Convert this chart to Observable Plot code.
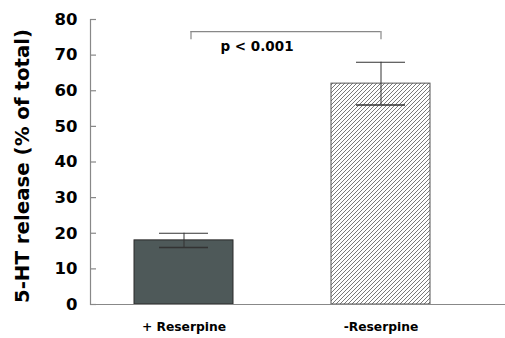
<!DOCTYPE html>
<html>
<head>
<meta charset="utf-8">
<script src="https://cdn.jsdelivr.net/npm/d3@7"></script>
<script src="https://cdn.jsdelivr.net/npm/@observablehq/plot@0.6"></script>
<style>
  html, body { margin: 0; padding: 0; background: #fff; }
  #chart svg { display: block; }
</style>
</head>
<body>
<div id="chart"></div>
<script>
const categories = ["+ Reserpine", "-Reserpine"];
const means = [18, 62];
const errLow = [16, 56];
const errHigh = [20, 68];
const yTicks = [0, 10, 20, 30, 40, 50, 60, 70, 80];
const yLabel = "5-HT release (% of total)";
const sigLabel = "p < 0.001";
const sigTop = 76.6;
const sigDrop = 74.3;
const sigText = 72.4;

const data = categories.map((c, i) => ({cat: c, mean: means[i], lo: errLow[i], hi: errHigh[i]}));
const bracket = [{from: categories[0], to: categories[1], top: sigTop, drop: sigDrop, ty: sigText, label: sigLabel}];

const FONT = "'DejaVu Sans', sans-serif";

const hatchDefs = () => {
  const defs = d3.create("svg:defs");
  const p = defs.append("pattern")
    .attr("id", "hatch")
    .attr("patternUnits", "userSpaceOnUse")
    .attr("width", 4).attr("height", 4);
  p.append("rect").attr("width", 4).attr("height", 4).attr("fill", "#fff");
  p.append("path")
    .attr("d", "M-1,1 l2,-2 M0,4 l4,-4 M3,5 l2,-2")
    .attr("stroke", "#6a6a6a").attr("stroke-width", 0.9);
  return defs.node();
};

const chart = Plot.plot({
  width: 505,
  height: 338,
  marginLeft: 90,
  marginRight: 0,
  marginTop: 19,
  marginBottom: 34,
  style: {fontFamily: FONT, background: "#fff", color: "#000"},
  x: {domain: categories, paddingInner: 0.5, paddingOuter: 0.298, align: 0.367, label: null},
  y: {domain: [0, 80], label: null},
  marks: [
    hatchDefs,
    Plot.barY(data.filter(d => d.cat === categories[0]), {x: "cat", y: "mean", fill: "#4e5959", stroke: "#2a2a2a", strokeWidth: 1}),
    Plot.barY(data.filter(d => d.cat === categories[1]), {x: "cat", y: "mean", fill: "url(#hatch)", stroke: "#555", strokeWidth: 1}),
    Plot.ruleX(data, {x: "cat", y1: "lo", y2: "hi", stroke: "#333", strokeWidth: 1}),
    Plot.tickY(data, {x: "cat", y: "hi", stroke: "#333", strokeWidth: 1, insetLeft: 25, insetRight: 25}),
    Plot.tickY(data, {x: "cat", y: "lo", stroke: "#333", strokeWidth: 1.5, insetLeft: 25, insetRight: 25}),
    Plot.ruleY(bracket, {x1: "from", x2: "to", y: "top", stroke: "#888", strokeWidth: 1.2, insetLeft: 56.5, insetRight: 49.5}),
    Plot.ruleX(bracket, {x: "from", y1: "drop", y2: "top", stroke: "#888", strokeWidth: 1.2, dx: 7}),
    Plot.ruleX(bracket, {x: "to", y1: "drop", y2: "top", stroke: "#888", strokeWidth: 1.2}),
    Plot.text(bracket, {x: "from", y: "ty", text: "label", dx: 73, fontSize: 13.5, fontWeight: "bold", fill: "#000"}),
    Plot.ruleY([0], {stroke: "#888", strokeWidth: 1.2}),
    Plot.frame({anchor: "left", stroke: "#888", strokeWidth: 1.2}),
    Plot.tickY(yTicks, {y: d => d, stroke: "#888", strokeWidth: 1.2, insetRight: 409}),
    Plot.axisY({ticks: yTicks, tickSize: 0, tickPadding: 13, fontSize: 16.5, fontWeight: "bold", fill: "#000", label: null}),
    Plot.axisX({tickSize: 0, tickPadding: 18, fontSize: 12.3, fontWeight: "bold", fill: "#000", label: null}),
    Plot.text([yLabel], {frameAnchor: "left", textAnchor: "middle", lineAnchor: "middle", text: d => d, rotate: -90, dx: -68, dy: 4, fontSize: 19.8, fontWeight: "bold", fill: "#000"})
  ]
});
document.getElementById("chart").appendChild(chart);
</script>
</body>
</html>
